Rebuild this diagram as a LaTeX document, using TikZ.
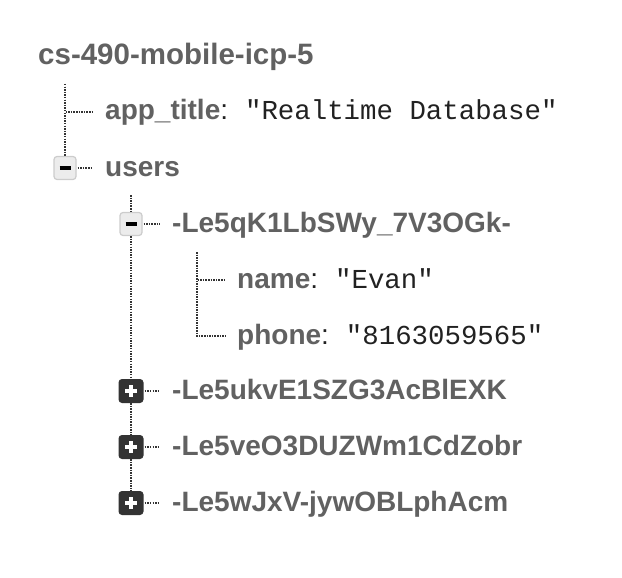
\documentclass[tikz,border=0pt]{standalone}
\usepackage{fontspec}
\setmainfont{Liberation Sans}
\setmonofont{Liberation Mono}

\definecolor{keygray}{HTML}{616161}
\definecolor{valblack}{HTML}{212121}
\definecolor{treegray}{HTML}{333333}

% key: "value"
\newcommand{\keyval}[2]{#1\textcolor{valblack}{\mdseries:}\hspace{17pt}{\mdseries\ttfamily\fontsize{27.4}{30}\selectfont\textcolor{valblack}{#2}}}

\begin{document}
\begin{tikzpicture}[x=1pt,y=-1pt,
  tree/.style={draw=treegray, line width=2pt, dash pattern=on 1.5pt off 1.1pt},
  branch/.style={tree, shorten >=12pt},
  key/.style={anchor=west, inner sep=0pt, text height=16pt, text depth=0pt,
    text=keygray, font=\fontsize{28}{30}\selectfont\bfseries},
  openbox/.style={draw=gray!40, fill=gray!15, line width=1.2pt, rounded corners=3pt,
    minimum width=22pt, minimum height=23pt, inner sep=0pt},
  closedbox/.style={fill=treegray, rounded corners=3.5pt,
    minimum width=25pt, minimum height=24pt, inner sep=0pt}]

\useasboundingbox (0,0) rectangle (622,578);

% -------------------------------------------------
% Root
% -------------------------------------------------
\node[key, anchor=base west, font=\fontsize{29.5}{32}\selectfont\bfseries] (root) at (38,65) {cs-490-mobile-icp-5};
\coordinate (roottop) at (65,84);

% -------------------------------------------------
% Level 1
% -------------------------------------------------
\node[key] (apptitle) at (105,112) {\keyval{app\_title}{"Realtime Database"}};
\node[openbox] (usersbox) at (65,168) {};
\node[key] (users) at (105,168) {users};
\coordinate (userstop) at (131,195);

\draw[branch] (roottop) |- (apptitle.west);
\draw[tree] (roottop) -- (usersbox.north);
\draw[branch, shorten <=1pt] (usersbox.east) -- (users.west);

% -------------------------------------------------
% Level 2 (user keys)
% -------------------------------------------------
\node[openbox] (k1box) at (131,224) {};
\node[key] (k1) at (172,224) {-Le5qK1LbSWy\_7V3OGk-};
\node[closedbox] (k2box) at (131,391) {};
\node[key] (k2) at (172,391) {-Le5ukvE1SZG3AcBlEXK};
\node[closedbox] (k3box) at (131,447) {};
\node[key] (k3) at (172,447) {-Le5veO3DUZWm1CdZobr};
\node[closedbox] (k4box) at (131,503) {};
\node[key] (k4) at (172,503) {-Le5wJxV-jywOBLphAcm};

\draw[tree] (userstop) -- (k1box.north);
\draw[tree] (k1box.south) -- (k2box.north);
\draw[tree] (k2box.south) -- (k3box.north);
\draw[tree] (k3box.south) -- (k4box.north);

\foreach \k in {k1,k2,k3,k4}
  \draw[branch, shorten <=1pt] (\k box.east) -- (\k.west);

% minus / plus signs
\foreach \k in {usersbox,k1box}
  \draw[black, line width=3.6pt] ([xshift=-5.5pt]\k.center) -- ([xshift=5.5pt]\k.center);
\foreach \k in {k2box,k3box,k4box} {
  \draw[white, line width=3.6pt] ([xshift=-6pt]\k.center) -- ([xshift=6pt]\k.center);
  \draw[white, line width=3.6pt] ([yshift=-6pt]\k.center) -- ([yshift=6pt]\k.center);
}

% -------------------------------------------------
% Level 3 (fields)
% -------------------------------------------------
\coordinate (k1top) at (197,252);
\node[key] (name) at (237,280) {\keyval{name}{"Evan"}};
\node[key] (phone) at (237,336) {\keyval{phone}{"8163059565"}};

\draw[branch] (k1top) |- (name.west);
\draw[branch] (k1top) |- (phone.west);

\end{tikzpicture}
\end{document}
